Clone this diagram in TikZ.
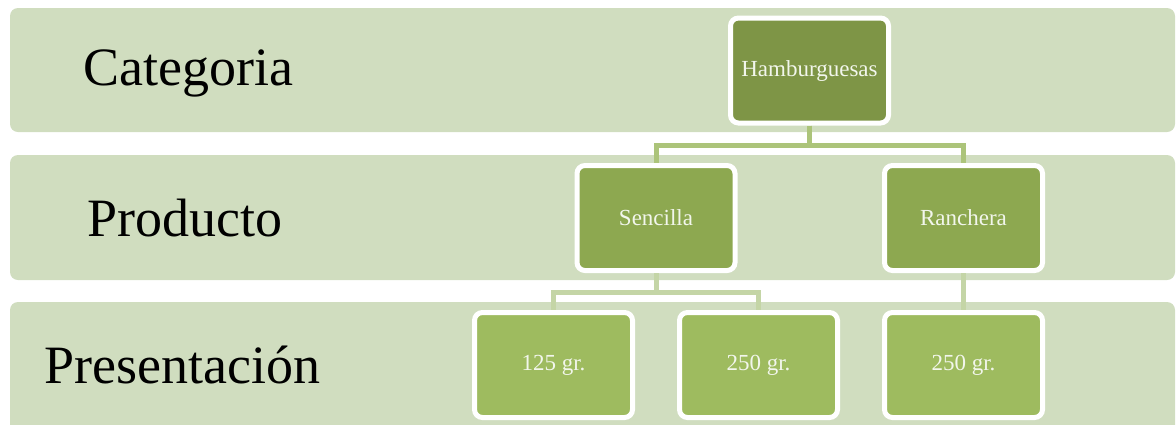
\documentclass[tikz,border=0pt]{standalone}
\usepackage{fontspec}
\setmainfont{Liberation Serif}
\definecolor{band}{RGB}{208,221,191}
\definecolor{lvA}{RGB}{126,149,70}
\definecolor{lvB}{RGB}{141,168,80}
\definecolor{lvC}{RGB}{158,187,95}
\definecolor{connA}{RGB}{172,196,122}
\definecolor{connB}{RGB}{196,213,166}
\definecolor{boxtext}{RGB}{242,246,236}
\tikzset{
  bandbox/.style={fill=band, rounded corners=8pt},
  bandlabel/.style={anchor=west, font=\fontsize{54}{64}\selectfont, text=black, inner sep=0pt},
  orgbox/.style={draw=white, line width=5pt, rounded corners=8pt, minimum width=158pt, minimum height=105pt, text=boxtext, font=\fontsize{23}{27}\selectfont, inner sep=0pt},
  connA/.style={draw=connA, line width=5pt},
  connB/.style={draw=connB, line width=5pt}
}
\begin{document}
\begin{tikzpicture}[x=1pt,y=-1pt]
\useasboundingbox (0,0) rectangle (1176,424);
\clip (0,0) rectangle (1176,424);
% bands
\path[bandbox] (10,8) rectangle (1175,132);
\path[bandbox] (10,155) rectangle (1175,280);
\path[bandbox] (10,302) rectangle (1175,440);
% band labels
\node[bandlabel] (lcat) at (83,73) {Categoria};
\node[bandlabel] (lprod) at (87,218) {Producto};
\node[bandlabel] (lpres) at (44,365) {Presentación};
% boxes
\node[orgbox, fill=lvA] (ham) at (809.5,70.5) {Hamburguesas};
\node[orgbox, fill=lvB] (sen) at (656,218) {Sencilla};
\node[orgbox, fill=lvB] (ran) at (963.5,218) {Ranchera};
\node[orgbox, fill=lvC] (s125) at (553.5,365) {125 gr.};
\node[orgbox, fill=lvC] (s250) at (758.5,365) {250 gr.};
\node[orgbox, fill=lvC] (r250) at (963.5,365) {250 gr.};
% connectors
\draw[connA] (ham.south) -- ++(0,19.5) -| (sen.north);
\draw[connA] (ham.south) -- ++(0,19.5) -| (ran.north);
\draw[connB] (sen.south) -- ++(0,19) -| (s125.north);
\draw[connB] (sen.south) -- ++(0,19) -| (s250.north);
\draw[connB] (ran.south) -- (r250.north);
\end{tikzpicture}
\end{document}
